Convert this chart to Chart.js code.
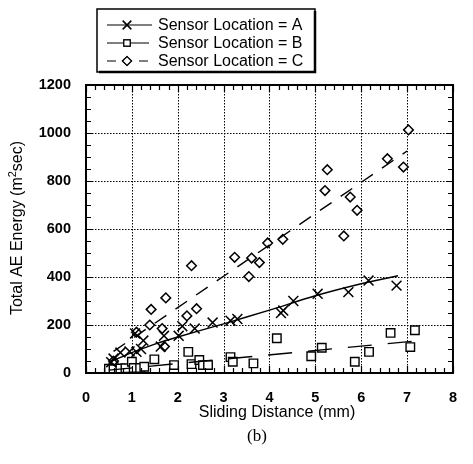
<!DOCTYPE html>
<html>
<head>
<meta charset="utf-8">
<script src="https://cdn.jsdelivr.net/npm/chart.js@4"></script>
<style>
  html, body { margin: 0; padding: 0; background: #fff; }
  #wrap { width: 473px; height: 464px; }
</style>
</head>
<body>
<div id="wrap"><canvas id="myChart" width="473" height="464"></canvas></div>
<script>
// values: [sliding distance mm, total AE energy]
const sensorA = [[0.55,45],[0.6,60],[0.75,85],[0.95,90],[1.1,88],[1.2,100],[1.07,165],[1.25,135],
  [1.63,110],[1.7,155],[2.02,155],[2.1,195],[2.37,185],[2.76,210],[3.15,218],[3.3,225],
  [4.25,250],[4.3,260],[4.52,300],[5.05,330],[5.72,337],[6.16,385],[6.77,364]];
const sensorB = [[0.5,18],[0.6,15],[0.75,19],[0.86,20],[1.0,47],[1.04,21],[1.18,21],[1.27,26],
  [1.49,57],[1.92,33],[2.23,88],[2.3,37],[2.47,54],[2.55,33],[2.66,33],[3.15,66],[3.2,47],
  [3.65,40],[4.16,145],[4.91,70],[5.14,105],[5.86,47],[6.17,88],[6.64,167],[7.17,178],[7.07,108]];
const sensorC = [[0.6,50],[1.1,170],[1.39,200],[1.42,265],[1.66,185],[1.71,110],[1.74,313],
  [2.2,238],[2.3,447],[2.41,268],[3.24,482],[3.55,402],[3.61,479],[3.78,460],[3.96,542],
  [4.29,557],[5.21,760],[5.26,847],[5.62,571],[5.76,733],[5.91,678],[6.57,893],[6.92,858],[7.03,1013]];
// fitted trend lines
const fitA = [[0.5,45],[0.75,65],[1,85],[1.5,120],[2,150],[3,205],[4,262],[5,322],[6,372],[6.8,405]];
const fitB = [[0.5,12],[7.1,132]];
const fitC = [[0.6,90],[7.0,925]];
const seriesNames = ["Sensor Location = A", "Sensor Location = B", "Sensor Location = C"];
const xTicks = [0, 1, 2, 3, 4, 5, 6, 7, 8];
const yTicks = [0, 200, 400, 600, 800, 1000, 1200];

const pts = arr => arr.map(p => ({ x: p[0], y: p[1] }));
const FONT = "'Liberation Sans', Arial, sans-serif";

const markers = ["crossRot", "rect", "rectRot"];
const dashes = [[], [24, 16], [14, 11]];

// dotted grid drawn under the marks
const grid = {
  id: "grid",
  beforeDatasetsDraw(chart) {
    const { ctx, chartArea: a, scales: { x, y } } = chart;
    ctx.save();
    ctx.strokeStyle = "#000";
    ctx.lineWidth = 1;
    ctx.setLineDash([1.5, 1.5]);
    ctx.beginPath();
    xTicks.slice(1, -1).forEach(v => {
      const px = Math.round(x.getPixelForValue(v)) + 0.5;
      ctx.moveTo(px, a.top); ctx.lineTo(px, a.bottom);
    });
    yTicks.slice(1, -1).forEach(v => {
      const py = Math.round(y.getPixelForValue(v)) + 0.5;
      ctx.moveTo(a.left, py); ctx.lineTo(a.right, py);
    });
    ctx.stroke();
    ctx.restore();
  }
};

// frame, minor ticks, axis titles and the boxed legend
const decor = {
  id: "decor",
  afterDraw(chart) {
    const { ctx, chartArea: a, scales: { x, y } } = chart;
    ctx.save();
    ctx.strokeStyle = "#000";
    ctx.lineWidth = 2;
    ctx.strokeRect(a.left, a.top, a.right - a.left, a.bottom - a.top);
    ctx.lineWidth = 1.2;
    ctx.beginPath();
    for (let v = 0; v <= 8.001; v += 0.2) {
      const px = Math.round(x.getPixelForValue(v)) + 0.5;
      const len = Math.abs(v - Math.round(v)) < 0.01 ? 7 : 5;
      ctx.moveTo(px, a.bottom); ctx.lineTo(px, a.bottom - len);
      ctx.moveTo(px, a.top); ctx.lineTo(px, a.top + len);
    }
    for (let v = 0; v <= 1200; v += 50) {
      const py = Math.round(y.getPixelForValue(v)) + 0.5;
      const len = v % 200 === 0 ? 7 : 5;
      ctx.moveTo(a.left, py); ctx.lineTo(a.left + len, py);
      ctx.moveTo(a.right, py); ctx.lineTo(a.right - len, py);
    }
    ctx.stroke();

    ctx.fillStyle = "#000";
    ctx.textAlign = "center";
    ctx.textBaseline = "middle";
    ctx.font = "16px " + FONT;
    ctx.fillText("Sliding Distance (mm)", 277, 413);
    ctx.font = "17px 'Liberation Serif', 'Times New Roman', serif";
    ctx.fillText("(b)", 257, 437);

    ctx.save();
    ctx.translate(18, 228);
    ctx.rotate(-Math.PI / 2);
    ctx.font = "16px " + FONT;
    const t1 = "Total AE Energy (m", t2 = "sec)";
    const w1 = ctx.measureText(t1).width;
    ctx.font = "11px " + FONT;
    const w2 = ctx.measureText("2").width;
    ctx.font = "16px " + FONT;
    const w3 = ctx.measureText(t2).width;
    let sx = -(w1 + w2 + w3) / 2;
    ctx.textAlign = "left";
    ctx.fillText(t1, sx, 0);
    ctx.font = "11px " + FONT;
    ctx.fillText("2", sx + w1, -5);
    ctx.font = "16px " + FONT;
    ctx.fillText(t2, sx + w1 + w2, 0);
    ctx.restore();

    // legend box
    ctx.lineWidth = 1.5;
    ctx.fillStyle = "#fff";
    ctx.fillRect(97, 9, 218, 63);
    ctx.strokeRect(97, 9, 218, 63);
    ctx.lineWidth = 2.5;
    ctx.beginPath();
    ctx.moveTo(315, 11); ctx.lineTo(315, 72); ctx.lineTo(99, 72);
    ctx.stroke();
    const rows = [25, 43, 61];
    rows.forEach((ry, i) => {
      ctx.lineWidth = 1.2;
      ctx.strokeStyle = "#000";
      ctx.setLineDash(i === 0 ? [] : (i === 1 ? [18, 6] : [9, 7]));
      ctx.beginPath();
      ctx.moveTo(107, ry); ctx.lineTo(152, ry);
      ctx.stroke();
      ctx.setLineDash([]);
      ctx.fillStyle = "#fff";
      Chart.helpers.drawPoint(ctx, {
        pointStyle: markers[i], radius: i === 0 ? 6 : 4.5, borderWidth: 1.4, rotation: 0
      }, 127, ry);
      if (i > 0) ctx.fill();
      ctx.stroke();
      ctx.fillStyle = "#000";
      ctx.font = "16px " + FONT;
      ctx.textAlign = "left";
      ctx.fillText(seriesNames[i], 158, ry + 1);
    });
    ctx.restore();
  }
};

new Chart("myChart", {
  type: "scatter",
  data: {
    datasets: [
      { label: "fitA", data: pts(fitA), showLine: true, borderColor: "#000", borderWidth: 1.4,
        pointRadius: 0, tension: 0.3 },
      { label: "fitB", data: pts(fitB), showLine: true, borderColor: "#000", borderWidth: 1.4,
        pointRadius: 0, borderDash: dashes[1] },
      { label: "fitC", data: pts(fitC), showLine: true, borderColor: "#000", borderWidth: 1.4,
        pointRadius: 0, borderDash: dashes[2] },
      { label: seriesNames[0], data: pts(sensorA), pointStyle: markers[0], pointRadius: 7,
        borderColor: "#000", borderWidth: 1.5, backgroundColor: "#000" },
      { label: seriesNames[1], data: pts(sensorB), pointStyle: markers[1], pointRadius: 6,
        borderColor: "#000", borderWidth: 1.4, backgroundColor: "#fff" },
      { label: seriesNames[2], data: pts(sensorC), pointStyle: markers[2], pointRadius: 4.8,
        borderColor: "#000", borderWidth: 1.5, backgroundColor: "#fff" }
    ]
  },
  options: {
    responsive: false,
    animation: false,
    layout: { padding: { top: 85, right: 8, left: 0, bottom: 0 } },
    plugins: { legend: { display: false }, tooltip: { enabled: false } },
    scales: {
      x: {
        type: "linear", min: 0, max: 8,
        afterFit: s => { s.height = 91; },
        afterBuildTicks: s => { s.ticks = xTicks.map(v => ({ value: v })); },
        grid: { display: false, drawTicks: false },
        border: { display: false },
        ticks: { color: "#000", padding: 16, maxRotation: 0, callback: v => String(v),
          font: { family: FONT, size: 14.5, weight: "bold" } }
      },
      y: {
        type: "linear", min: 0, max: 1200,
        afterFit: s => { s.width = 86; },
        afterBuildTicks: s => { s.ticks = yTicks.map(v => ({ value: v })); },
        grid: { display: false, drawTicks: false },
        border: { display: false },
        ticks: { color: "#000", padding: 15, callback: v => String(v),
          font: { family: FONT, size: 14.5, weight: "bold" } }
      }
    }
  },
  plugins: [grid, decor]
});
</script>
</body>
</html>
